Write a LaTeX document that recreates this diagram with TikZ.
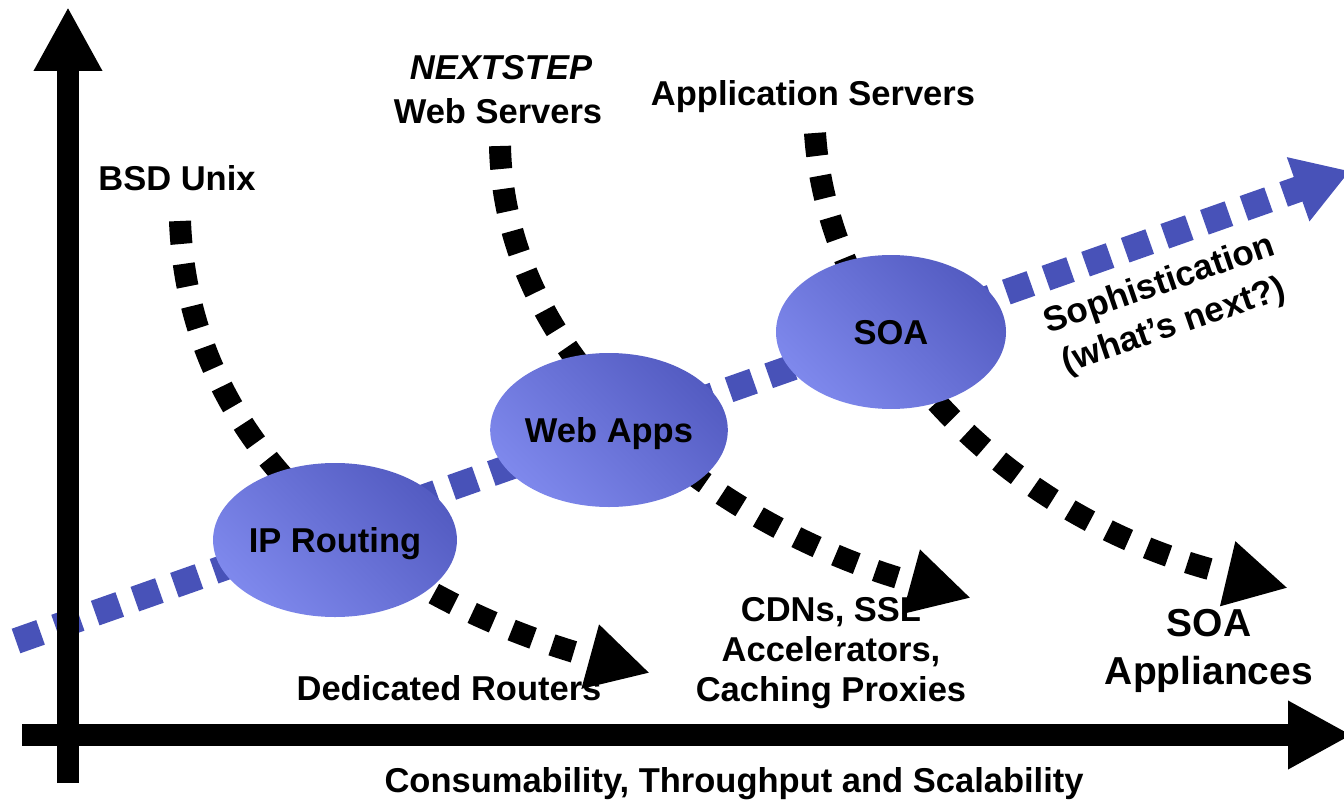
\documentclass[tikz,border=0pt]{standalone}
\usepackage{fontspec}
\setmainfont{Liberation Sans}
\usetikzlibrary{arrows.meta,shapes.geometric}
\definecolor{sblue}{RGB}{72,82,184}
\definecolor{edark}{RGB}{84,92,194}
\definecolor{elight}{RGB}{126,136,236}
\begin{document}
\begin{tikzpicture}[x=1pt,y=-1pt,
  lbl/.style={font=\fontsize{34.5}{40}\selectfont\bfseries, align=center, inner sep=0pt},
  biglbl/.style={font=\fontsize{39}{48}\selectfont\bfseries, align=center, inner sep=0pt},
  ell/.style={ellipse, minimum width=230pt, minimum height=154pt, inner sep=0pt,
    text depth=0pt, top color=edark, bottom color=elight, shading angle=-45,
    font=\fontsize{34.5}{40}\selectfont\bfseries},
  trend/.style={line width=22pt, black, dash pattern=on 23pt off 20pt, line cap=butt,
    -{Triangle[length=62pt,width=62pt]}},
  sophline/.style={line width=26pt, sblue, dash pattern=on 26pt off 16pt, line cap=butt,
    -{Triangle[length=55pt,width=64pt]}},
  axisline/.style={line width=22pt, black, line cap=butt,
    -{Triangle[length=64pt,width=64pt]}}]
\useasboundingbox (0,0) rectangle (1344,800);

% coordinates
\coordinate (bs) at (16,641);
\coordinate (be) at (1350,171);
\coordinate (c1s) at (180,221);
\coordinate (c1e) at (650,673);
\coordinate (c2s) at (500,146);
\coordinate (c2e) at (971,598);
\coordinate (c3s) at (815,133);
\coordinate (c3e) at (1288,588);
\coordinate (v0) at (68,783);
\coordinate (v1) at (68,7);
\coordinate (h0) at (22,735);
\coordinate (h1) at (1352,735);

% sophistication line
\draw[sophline] (bs) -- (be);

% trend curves
\draw[trend] (c1s) .. controls (190,480) and (420,610) .. (c1e);
\draw[trend] (c2s) .. controls (505,380) and (740,535) .. (c2e);
\draw[trend] (c3s) .. controls (828,330) and (1000,520) .. (c3e);

% ellipses
\node[ell] (ip) at (335,540) {IP Routing};
\node[ell] (web) at (609,430) {Web Apps};
\node[ell] (soa) at (891,332) {SOA};

% axes
\draw[axisline] (v0) -- (v1);
\draw[axisline] (h0) -- (h1);

% labels
\node[lbl, anchor=base] (bsd) at (177,190) {BSD Unix};
\node[lbl, anchor=base] (next) at (501,80) {\itshape NEXTSTEP};
\node[lbl, anchor=base] (webs) at (498,123) {Web Servers};
\node[lbl, anchor=base] (apps) at (813,106) {Application Servers};
\node[lbl, anchor=base] (ded) at (449,700) {Dedicated Routers};
\node[lbl] (cdn) at (831,653) {CDNs, SSL\\Accelerators,\\Caching Proxies};
\node[biglbl] (soaapp) at (1209,651) {SOA\\Appliances};
\node[lbl, rotate=19, font=\fontsize{35}{44}\selectfont\bfseries] (soph) at (1167,306) {Sophistication\\(what’s next?)};
\node[lbl, anchor=base] (xlab) at (734,792) {Consumability, Throughput and Scalability};
\end{tikzpicture}
\end{document}
